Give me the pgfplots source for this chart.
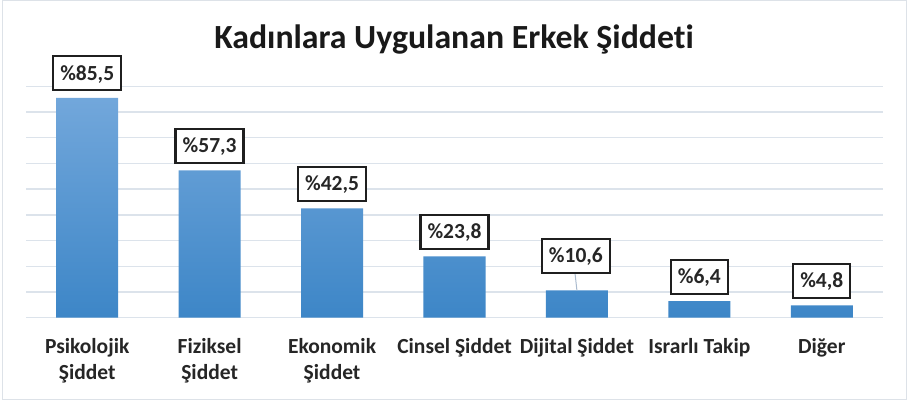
\documentclass[border=0pt]{standalone}
\usepackage{fontspec}
\setmainfont{Carlito}[Ligatures={NoCommon,TeX}]
\usepackage{pgfplots}
\pgfplotsset{compat=1.18}
\definecolor{barTop}{HTML}{72A7DB}
\definecolor{barBot}{HTML}{3D86C7}
\definecolor{gridc}{HTML}{DCE3EB}
\definecolor{framec}{HTML}{DDE2E8}
\definecolor{txt}{HTML}{262626}
\definecolor{leader}{HTML}{A9BACE}
\newcommand{\lab}{\fontsize{21.5}{25.8}\selectfont\bfseries}
\begin{document}
\begin{tikzpicture}
\useasboundingbox (0,0) rectangle (908pt,405pt);
\fill[white] (0,0) rectangle (908pt,405pt);
\draw[framec, line width=1.5pt] (2.5pt,5.5pt) rectangle (906.5pt,404.5pt);
\node[anchor=base, font=\fontsize{33.8}{40}\selectfont\bfseries, text=black!90, inner sep=0pt] at (454pt,356.7pt) {Kadınlara Uygulanan Erkek Şiddeti};
\begin{axis}[
  at={(26pt,87.3pt)}, anchor=south west,
  scale only axis, width=857pt, height=231.5pt,
  xmin=-0.5, xmax=6.5, ymin=0, ymax=90,
  clip=false,
  axis line style={draw=none},
  major tick length=0pt,
  ytick={0,10,...,90}, yticklabels={{},{},{},{},{},{},{},{},{},{}},
  ymajorgrids, grid style={color=gridc, line width=1.4pt},
  xtick={0,...,6},
  xticklabels={{\strut Psikolojik\\Şiddet},{\strut Fiziksel\\Şiddet},{\strut Ekonomik\\Şiddet},{\strut Cinsel Şiddet},{\strut Dijital Şiddet},{\strut Israrlı Takip},{\strut Diğer}},
  xticklabel style={anchor=north, inner sep=0pt, yshift=-17.5pt, align=center, font=\lab, text=txt},
]
\addplot[ybar, bar width=62pt, draw=none, top color=barTop, bottom color=barBot]
  coordinates {(0,85.5) (1,57.3) (2,42.5) (3,23.8) (4,10.6) (5,6.4) (6,4.8)};
\addplot[leader, line width=1pt] coordinates {(4,10.6) (3.985,17.0)};
\addplot[draw=none, point meta=explicit symbolic, nodes near coords,
  every node near coord/.style={anchor=south, yshift=6.3pt, draw=black!88, line width=2.4pt, fill=white, inner xsep=7pt, inner ysep=10pt, text height=14pt, text depth=0pt, font=\lab, text=txt}]
  coordinates {(0,85.5) [\%85,5] (1,57.3) [\%57,3] (2,42.5) [\%42,5] (3,23.8) [\%23,8] (5,6.4) [\%6,4] (6,4.8) [\%4,8]};
\addplot[draw=none, point meta=explicit symbolic, nodes near coords,
  every node near coord/.style={anchor=south, yshift=16.5pt, xshift=-1pt, draw=black!88, line width=2.4pt, fill=white, inner xsep=7pt, inner ysep=10pt, text height=14pt, text depth=0pt, font=\lab, text=txt}]
  coordinates {(4,10.6) [\%10,6]};
\end{axis}
\end{tikzpicture}
\end{document}
